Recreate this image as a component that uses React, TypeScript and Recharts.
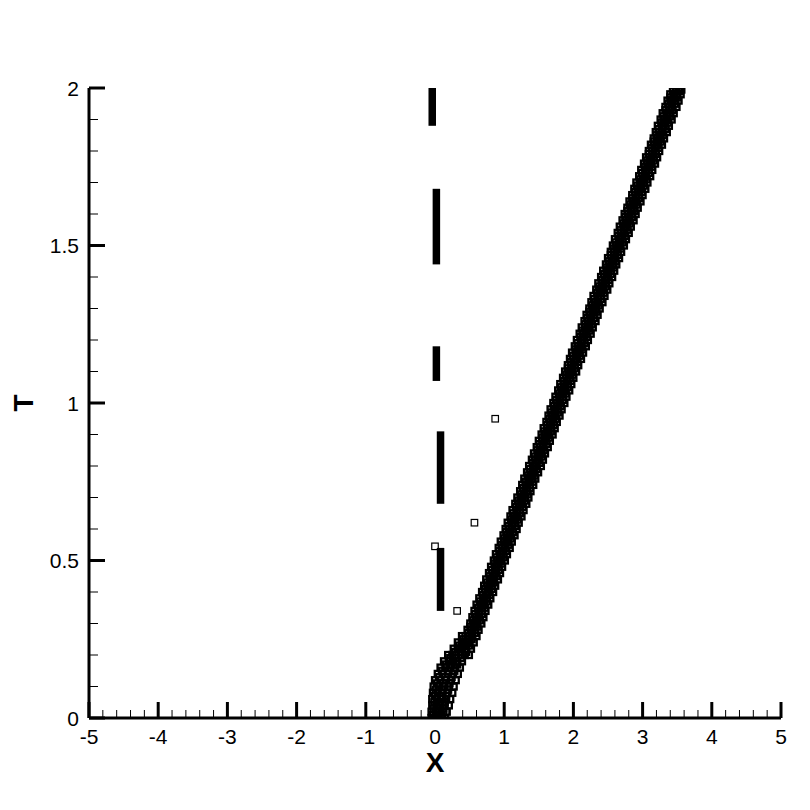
import { Scatter, ScatterChart, XAxis, YAxis, Label } from 'recharts';

// x positions of the shock front (squares), one row per time level
const bandRows: [number, number[]][] = [
  [0.0, [-0.05, 0.0, 0.05, 0.1, 0.14]],
  [0.02, [-0.05, 0.01, 0.06, 0.12, 0.17]],
  [0.04, [-0.04, 0.02, 0.08, 0.14, 0.2]],
  [0.06, [-0.04, 0.03, 0.1, 0.16, 0.22]],
  [0.08, [-0.03, 0.04, 0.11, 0.18, 0.25]],
  [0.1, [-0.02, 0.06, 0.13, 0.2, 0.27]],
  [0.12, [0.0, 0.08, 0.16, 0.23, 0.3]],
  [0.14, [0.04, 0.11, 0.19, 0.26, 0.33]],
  [0.16, [0.08, 0.15, 0.22, 0.29, 0.36]],
  [0.18, [0.13, 0.2, 0.26, 0.32, 0.39]],
  [0.2, [0.19, 0.25, 0.31, 0.37, 0.43, 0.49]],
  [0.22, [0.27, 0.33, 0.39, 0.45, 0.52]],
  [0.24, [0.33, 0.39, 0.45, 0.5, 0.56]],
  [0.26, [0.39, 0.44, 0.49, 0.54, 0.6]],
  [0.28, [0.47, 0.52, 0.58, 0.63]],
  [0.3, [0.51, 0.56, 0.61, 0.67]],
  [0.32, [0.54, 0.59, 0.64, 0.7]],
  [0.34, [0.57, 0.63, 0.68, 0.73]],
  [0.36, [0.6, 0.66, 0.71, 0.77]],
  [0.38, [0.64, 0.7, 0.75, 0.8]],
  [0.4, [0.68, 0.73, 0.78, 0.84]],
  [0.42, [0.71, 0.76, 0.82, 0.87]],
  [0.44, [0.74, 0.8, 0.85, 0.91]],
  [0.46, [0.78, 0.83, 0.88, 0.94]],
  [0.48, [0.81, 0.87, 0.92, 0.97]],
  [0.5, [0.85, 0.9, 0.95, 1.01]],
  [0.52, [0.88, 0.94, 0.99, 1.04]],
  [0.54, [0.92, 0.97, 1.02, 1.08]],
  [0.56, [0.95, 1.0, 1.06, 1.11]],
  [0.58, [0.99, 1.04, 1.09, 1.15]],
  [0.6, [1.02, 1.07, 1.12, 1.18]],
  [0.62, [1.05, 1.11, 1.16, 1.21]],
  [0.64, [1.09, 1.14, 1.19, 1.25]],
  [0.66, [1.12, 1.18, 1.23, 1.28]],
  [0.68, [1.16, 1.21, 1.26, 1.32]],
  [0.7, [1.19, 1.24, 1.3, 1.35]],
  [0.72, [1.23, 1.28, 1.33, 1.38]],
  [0.74, [1.26, 1.31, 1.37, 1.42]],
  [0.76, [1.29, 1.35, 1.4, 1.45]],
  [0.78, [1.33, 1.38, 1.43, 1.49]],
  [0.8, [1.36, 1.42, 1.47, 1.53]],
  [0.82, [1.4, 1.45, 1.5, 1.56]],
  [0.84, [1.43, 1.49, 1.54, 1.59]],
  [0.86, [1.47, 1.52, 1.57, 1.63]],
  [0.88, [1.5, 1.55, 1.61, 1.66]],
  [0.9, [1.54, 1.59, 1.64, 1.7]],
  [0.92, [1.57, 1.62, 1.68, 1.73]],
  [0.94, [1.61, 1.66, 1.71, 1.76]],
  [0.96, [1.64, 1.69, 1.74, 1.8]],
  [0.98, [1.67, 1.73, 1.78, 1.83]],
  [1.0, [1.71, 1.76, 1.81, 1.87]],
  [1.02, [1.74, 1.8, 1.85, 1.9]],
  [1.04, [1.78, 1.83, 1.88, 1.94]],
  [1.06, [1.81, 1.86, 1.92, 1.97]],
  [1.08, [1.85, 1.9, 1.95, 2.0]],
  [1.1, [1.88, 1.93, 1.98, 2.04]],
  [1.12, [1.92, 1.97, 2.02, 2.07]],
  [1.14, [1.95, 2.0, 2.05, 2.11]],
  [1.16, [1.98, 2.04, 2.09, 2.14]],
  [1.18, [2.02, 2.07, 2.12, 2.18]],
  [1.2, [2.05, 2.11, 2.16, 2.21]],
  [1.22, [2.09, 2.14, 2.19, 2.25]],
  [1.24, [2.12, 2.17, 2.23, 2.28]],
  [1.26, [2.16, 2.21, 2.26, 2.32]],
  [1.28, [2.19, 2.24, 2.3, 2.35]],
  [1.3, [2.23, 2.28, 2.33, 2.38]],
  [1.32, [2.26, 2.31, 2.36, 2.42]],
  [1.34, [2.29, 2.35, 2.4, 2.45]],
  [1.36, [2.33, 2.38, 2.43, 2.49]],
  [1.38, [2.36, 2.41, 2.47, 2.52]],
  [1.4, [2.4, 2.45, 2.5, 2.56]],
  [1.42, [2.43, 2.48, 2.54, 2.59]],
  [1.44, [2.47, 2.52, 2.57, 2.62]],
  [1.46, [2.5, 2.55, 2.6, 2.66]],
  [1.48, [2.54, 2.59, 2.64, 2.69]],
  [1.5, [2.57, 2.62, 2.67, 2.73]],
  [1.52, [2.6, 2.66, 2.71, 2.76]],
  [1.54, [2.64, 2.69, 2.74, 2.8]],
  [1.56, [2.67, 2.73, 2.78, 2.83]],
  [1.58, [2.71, 2.76, 2.81, 2.87]],
  [1.6, [2.74, 2.79, 2.85, 2.9]],
  [1.62, [2.78, 2.83, 2.88, 2.93]],
  [1.64, [2.81, 2.86, 2.91, 2.97]],
  [1.66, [2.85, 2.9, 2.95, 3.0]],
  [1.68, [2.88, 2.93, 2.98, 3.04]],
  [1.7, [2.91, 2.97, 3.02, 3.07]],
  [1.72, [2.95, 3.0, 3.05, 3.11]],
  [1.74, [2.98, 3.04, 3.09, 3.14]],
  [1.76, [3.02, 3.07, 3.12, 3.18]],
  [1.78, [3.05, 3.1, 3.16, 3.21]],
  [1.8, [3.09, 3.14, 3.19, 3.24]],
  [1.82, [3.12, 3.17, 3.22, 3.28]],
  [1.84, [3.16, 3.21, 3.26, 3.31]],
  [1.86, [3.19, 3.24, 3.29, 3.35]],
  [1.88, [3.22, 3.28, 3.33, 3.38]],
  [1.9, [3.26, 3.31, 3.36, 3.42]],
  [1.92, [3.29, 3.35, 3.4, 3.45]],
  [1.94, [3.33, 3.38, 3.43, 3.49]],
  [1.96, [3.36, 3.41, 3.47, 3.52]],
  [1.98, [3.4, 3.45, 3.5, 3.55]],
  [1.995, [3.44, 3.48, 3.52, 3.56]],
];

// squares at the in-between time levels
const bandRowsMid: [number, number[]][] = [
  [0.01, [-0.03, 0.03, 0.09]],
  [0.03, [-0.02, 0.05, 0.12]],
  [0.05, [-0.01, 0.06, 0.14]],
  [0.07, [0.0, 0.08, 0.16]],
  [0.09, [0.01, 0.1, 0.19]],
  [0.11, [0.03, 0.12, 0.21]],
  [0.13, [0.06, 0.15, 0.24]],
  [0.15, [0.1, 0.19, 0.28]],
  [0.17, [0.16, 0.24, 0.32]],
  [0.19, [0.22, 0.3, 0.38]],
  [0.21, [0.29, 0.37, 0.45]],
  [0.23, [0.35, 0.42, 0.49]],
  [0.25, [0.41, 0.47, 0.53]],
  [0.27, [0.48, 0.53, 0.58]],
  [0.29, [0.51, 0.56, 0.61]],
  [0.31, [0.55, 0.6, 0.65]],
  [0.33, [0.58, 0.63, 0.68]],
  [0.35, [0.62, 0.67, 0.72]],
  [0.37, [0.65, 0.7, 0.75]],
  [0.39, [0.69, 0.74, 0.79]],
  [0.41, [0.72, 0.77, 0.82]],
  [0.43, [0.75, 0.8, 0.85]],
  [0.45, [0.79, 0.84, 0.89]],
  [0.47, [0.82, 0.87, 0.92]],
  [0.49, [0.86, 0.91, 0.96]],
  [0.51, [0.89, 0.94, 0.99]],
  [0.53, [0.93, 0.98, 1.03]],
  [0.55, [0.96, 1.01, 1.06]],
  [0.57, [1.0, 1.05, 1.1]],
  [0.59, [1.03, 1.08, 1.13]],
  [0.61, [1.06, 1.11, 1.16]],
  [0.63, [1.1, 1.15, 1.2]],
  [0.65, [1.13, 1.18, 1.23]],
  [0.67, [1.17, 1.22, 1.27]],
  [0.69, [1.2, 1.25, 1.3]],
  [0.71, [1.24, 1.29, 1.34]],
  [0.73, [1.27, 1.32, 1.37]],
  [0.75, [1.31, 1.36, 1.41]],
  [0.77, [1.34, 1.39, 1.44]],
  [0.79, [1.37, 1.42, 1.47]],
  [0.81, [1.41, 1.46, 1.51]],
  [0.83, [1.44, 1.49, 1.54]],
  [0.85, [1.48, 1.53, 1.58]],
  [0.87, [1.51, 1.56, 1.61]],
  [0.89, [1.55, 1.6, 1.65]],
  [0.91, [1.58, 1.63, 1.68]],
  [0.93, [1.62, 1.67, 1.72]],
  [0.95, [1.65, 1.7, 1.75]],
  [0.97, [1.68, 1.73, 1.78]],
  [0.99, [1.72, 1.77, 1.82]],
  [1.01, [1.75, 1.8, 1.85]],
  [1.03, [1.79, 1.84, 1.89]],
  [1.05, [1.82, 1.87, 1.92]],
  [1.07, [1.86, 1.91, 1.96]],
  [1.09, [1.89, 1.94, 1.99]],
  [1.11, [1.92, 1.97, 2.02]],
  [1.13, [1.96, 2.01, 2.06]],
  [1.15, [1.99, 2.04, 2.09]],
  [1.17, [2.03, 2.08, 2.13]],
  [1.19, [2.06, 2.11, 2.16]],
  [1.21, [2.1, 2.15, 2.2]],
  [1.23, [2.13, 2.18, 2.23]],
  [1.25, [2.17, 2.22, 2.27]],
  [1.27, [2.2, 2.25, 2.3]],
  [1.29, [2.23, 2.28, 2.33]],
  [1.31, [2.27, 2.32, 2.37]],
  [1.33, [2.3, 2.35, 2.4]],
  [1.35, [2.34, 2.39, 2.44]],
  [1.37, [2.37, 2.42, 2.47]],
  [1.39, [2.41, 2.46, 2.51]],
  [1.41, [2.44, 2.49, 2.54]],
  [1.43, [2.48, 2.53, 2.58]],
  [1.45, [2.51, 2.56, 2.61]],
  [1.47, [2.54, 2.59, 2.64]],
  [1.49, [2.58, 2.63, 2.68]],
  [1.51, [2.61, 2.66, 2.71]],
  [1.53, [2.65, 2.7, 2.75]],
  [1.55, [2.68, 2.73, 2.78]],
  [1.57, [2.72, 2.77, 2.82]],
  [1.59, [2.75, 2.8, 2.85]],
  [1.61, [2.78, 2.83, 2.88]],
  [1.63, [2.82, 2.87, 2.92]],
  [1.65, [2.85, 2.9, 2.95]],
  [1.67, [2.89, 2.94, 2.99]],
  [1.69, [2.92, 2.97, 3.02]],
  [1.71, [2.96, 3.01, 3.06]],
  [1.73, [2.99, 3.04, 3.09]],
  [1.75, [3.03, 3.08, 3.13]],
  [1.77, [3.06, 3.11, 3.16]],
  [1.79, [3.09, 3.14, 3.19]],
  [1.81, [3.13, 3.18, 3.23]],
  [1.83, [3.16, 3.21, 3.26]],
  [1.85, [3.2, 3.25, 3.3]],
  [1.87, [3.23, 3.28, 3.33]],
  [1.89, [3.27, 3.32, 3.37]],
  [1.91, [3.3, 3.35, 3.4]],
  [1.93, [3.33, 3.38, 3.43]],
  [1.95, [3.37, 3.42, 3.47]],
  [1.97, [3.4, 3.45, 3.5]],
  [1.99, [3.44, 3.49, 3.54]],
];

// stray squares away from the front
const strayX = [0.87, 0.57, 0.32, 0.0];
const strayT = [0.95, 0.62, 0.34, 0.545];

// dashed contact line, one pair of points per dash
const dashX = [
  [-0.04, -0.04],
  [0.02, 0.02],
  [0.02, 0.02],
  [0.08, 0.08],
  [0.08, 0.08],
];
const dashT = [
  [2.01, 1.88],
  [1.68, 1.44],
  [1.18, 1.07],
  [0.91, 0.68],
  [0.54, 0.34],
];

const xMajor = [-5, -4, -3, -2, -1, 0, 1, 2, 3, 4, 5];
const yMajor = [0, 0.5, 1, 1.5, 2];

const FONT = '"Liberation Sans", Arial, sans-serif';

const xTicks: number[] = [];
for (let i = -25; i <= 25; i++) xTicks.push(i / 5);
const yTicks: number[] = [];
for (let i = 0; i <= 20; i++) yTicks.push(i / 10);

const isMajor = (v: number, majors: number[]) => majors.some((m) => Math.abs(m - v) < 1e-6);

function XTick({ x, y, payload }: any) {
  const major = isMajor(payload.value, xMajor);
  return (
    <g>
      <line x1={x} y1={y} x2={x} y2={y - (major ? 16 : 8)} stroke="#000" strokeWidth={major ? 3 : 1} />
      {major && (
        <text x={x} y={y + 26} textAnchor="middle" fontSize={21} fontFamily={FONT} fill="#000">
          {String(Math.round(payload.value))}
        </text>
      )}
    </g>
  );
}

function YTick({ x, y, payload }: any) {
  const major = isMajor(payload.value, yMajor);
  return (
    <g>
      <line x1={x} y1={y} x2={x + (major ? 16 : 9)} y2={y} stroke="#000" strokeWidth={major ? 3 : 1} />
      {major && (
        <text x={x - 10} y={y + 7.5} textAnchor="end" fontSize={21} fontFamily={FONT} fill="#000">
          {String(payload.value)}
        </text>
      )}
    </g>
  );
}

function HollowSquare({ cx, cy }: any) {
  if (cx == null || cy == null) return <g />;
  return <rect x={cx - 3.25} y={cy - 3.25} width={6.5} height={6.5} fill="none" stroke="#000" strokeWidth={1.2} />;
}

function BandSquare({ cx, cy }: any) {
  if (cx == null || cy == null) return <g />;
  return <rect x={cx - 3} y={cy - 3} width={6} height={6} fill="none" stroke="#000" strokeWidth={2.3} />;
}

export default function App() {
  const bandData = [...bandRows, ...bandRowsMid].flatMap(([t, xs]) => xs.map((x) => ({ x, T: t })));
  const strayData = strayX.map((x, i) => ({ x, T: strayT[i] }));
  const dashData = dashX.map((xs, i) => xs.map((x, j) => ({ x, T: dashT[i][j] })));

  return (
    <div style={{ position: 'absolute', left: 0, top: 0, width: 810, height: 810, background: '#fff' }}>
      <ScatterChart width={810} height={810} margin={{ top: 88, right: 29, bottom: 52, left: 0 }}>
        <XAxis
          type="number"
          dataKey="x"
          domain={[-5, 5]}
          ticks={xTicks}
          interval={0}
          tick={<XTick />}
          tickLine={false}
          tickSize={0}
          tickMargin={0}
          height={40}
          axisLine={{ stroke: '#000', strokeWidth: 3 }}
          allowDataOverflow
        >
          <Label
            content={() => (
              <text x={435} y={772} textAnchor="middle" fontSize={28} fontWeight="bold" fontFamily={FONT} fill="#000">
                X
              </text>
            )}
          />
        </XAxis>
        <YAxis
          type="number"
          dataKey="T"
          domain={[0, 2]}
          ticks={yTicks}
          interval={0}
          tick={<YTick />}
          tickLine={false}
          tickSize={0}
          tickMargin={0}
          width={89}
          axisLine={{ stroke: '#000', strokeWidth: 3 }}
          allowDataOverflow
        >
          <Label
            content={() => (
              <text
                x={33}
                y={403}
                textAnchor="middle"
                fontSize={28}
                fontWeight="bold"
                fontFamily={FONT}
                fill="#000"
                transform="rotate(-90 33 403)"
              >
                T
              </text>
            )}
          />
        </YAxis>
        {dashData.map((seg, i) => (
          <Scatter
            key={`dash-${i}`}
            data={seg}
            line={{ stroke: '#000', strokeWidth: 7.5 }}
            lineType="joint"
            shape={() => <g />}
            isAnimationActive={false}
          />
        ))}
        <Scatter data={bandData} shape={<BandSquare />} isAnimationActive={false} />
        <Scatter data={strayData} shape={<HollowSquare />} isAnimationActive={false} />
      </ScatterChart>
    </div>
  );
}
